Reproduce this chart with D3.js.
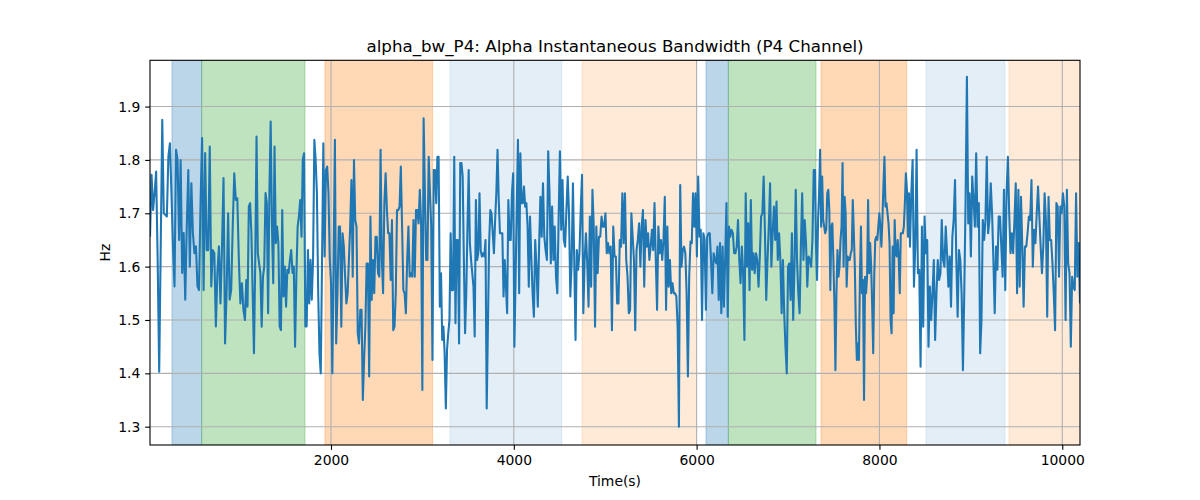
<!DOCTYPE html>
<html><head><meta charset="utf-8">
<script src="https://cdn.jsdelivr.net/npm/d3@7"></script>
<style>body{margin:0;background:#fff} svg{display:block} text{font-family:"DejaVu Sans",sans-serif;fill:#000}</style>
</head><body><svg id="c" width="1200" height="500"></svg>
<script>
// ---- data ----
const timeKnots = [20, 1059, 2099, 3138, 4177, 5216, 6256, 7295, 8334, 9319, 10194];
const seg1 = [1.656,1.772,1.706,1.738,1.778,1.613,1.403,1.638,1.875,1.70,1.697,1.694,1.806,1.831,1.738,1.638,1.563,1.819,1.80,1.65,1.80,1.588,1.663,1.538,1.675,1.781,1.60,1.756,1.663,1.625,1.638,1.563,1.556,1.719,1.841,1.556,1.813,1.631,1.631,1.825,1.563,1.631,1.625,1.488,1.588,1.638,1.531,1.638,1.766,1.456,1.55,1.70,1.538,1.556,1.675,1.775,1.725,1.728,1.613,1.531,1.569,1.519];
const seg2 = [1.50,1.575,1.525,1.7125,1.719,1.663,1.55,1.4375,1.6125,1.844,1.625,1.606,1.588,1.4875,1.581,1.60,1.738,1.719,1.5125,1.738,1.872,1.675,1.569,1.825,1.644,1.675,1.644,1.488,1.481,1.706,1.544,1.60,1.525,1.594,1.588,1.613,1.631,1.588,1.60,1.45,1.581,1.675,1.694,1.725,1.656,1.80,1.8125,1.488,1.488,1.631,1.531,1.613,1.538,1.613,1.8375,1.80,1.738,1.55,1.4375,1.40,1.613,1.831,1.619,1.781,1.7875,1.738,1.613,1.569,1.40,1.613,1.8375,1.456,1.55,1.675];
const seg3 = [1.675,1.4875,1.6625,1.6375,1.581,1.531,1.55,1.6125,1.675,1.7625,1.581,1.80,1.6875,1.675,1.475,1.456,1.519,1.519,1.35,1.425,1.4875,1.606,1.606,1.394,1.694,1.5375,1.6125,1.55,1.656,1.656,1.5875,1.581,1.819,1.6125,1.55,1.719,1.775,1.706,1.6625,1.6625,1.575,1.6875,1.481,1.4875,1.55,1.706,1.706,1.7125,1.7875,1.675,1.556,1.55,1.5125,1.6125,1.675,1.581,1.5875,1.581,1.6875,1.581,1.706,1.706,1.681,1.744,1.681,1.369,1.878,1.738,1.6125,1.6125,1.806,1.738,1.675,1.425,1.781];
const seg4 = [1.781,1.719,1.806,1.806,1.525,1.5875,1.4625,1.4875,1.4375,1.334,1.444,1.475,1.50,1.6625,1.556,1.556,1.806,1.494,1.65,1.65,1.456,1.794,1.794,1.769,1.6125,1.475,1.55,1.675,1.781,1.644,1.6125,1.5875,1.5625,1.469,1.725,1.6125,1.625,1.7375,1.631,1.619,1.625,1.619,1.65,1.334,1.4875,1.644,1.706,1.70,1.6625,1.625,1.6875,1.7375,1.819,1.725,1.6625,1.6625,1.6625,1.544,1.6125,1.5625,1.5125,1.725,1.65,1.65,1.7375,1.775,1.45,1.575,1.7125,1.8375,1.55,1.8125,1.719,1.719,1.75,1.7125,1.719,1.675,1.5625];
const seg5 = [1.694,1.619,1.55,1.506,1.65,1.60,1.525,1.6375,1.731,1.656,1.756,1.656,1.631,1.6125,1.816,1.7375,1.606,1.7125,1.6125,1.675,1.581,1.55,1.6875,1.816,1.669,1.7625,1.65,1.6375,1.706,1.769,1.70,1.544,1.606,1.756,1.6125,1.4625,1.631,1.594,1.625,1.706,1.772,1.5125,1.6125,1.6625,1.606,1.525,1.694,1.5625,1.744,1.675,1.4875,1.675,1.5875,1.656,1.656,1.694,1.675,1.675,1.70,1.625,1.644,1.625,1.6375,1.481,1.675,1.619,1.619,1.531,1.531,1.65,1.6375,1.7375,1.644];
const seg6 = [1.7375,1.6125,1.581,1.5125,1.519,1.70,1.656,1.6125,1.481,1.631,1.65,1.681,1.60,1.675,1.706,1.5625,1.6875,1.6375,1.6625,1.6125,1.6375,1.669,1.631,1.719,1.6125,1.519,1.675,1.625,1.65,1.6125,1.65,1.731,1.519,1.675,1.5625,1.6125,1.55,1.569,1.55,1.55,1.544,1.4875,1.30,1.753,1.60,1.631,1.6375,1.625,1.55,1.394,1.581,1.647,1.644,1.7375,1.675,1.7375,1.619,1.769,1.656,1.669,1.50,1.6625,1.65,1.519,1.656,1.6625,1.6625,1.6125,1.55,1.625,1.6125,1.606,1.6375,1.5375];
const seg7 = [1.644,1.5125,1.6375,1.525,1.6125,1.719,1.506,1.675,1.656,1.669,1.6625,1.625,1.625,1.6375,1.6875,1.6125,1.569,1.6375,1.5875,1.4625,1.7375,1.60,1.681,1.556,1.725,1.594,1.625,1.5875,1.625,1.6125,1.5625,1.619,1.694,1.70,1.769,1.6625,1.5375,1.6125,1.675,1.756,1.60,1.6625,1.7125,1.65,1.722,1.6125,1.6625,1.6125,1.5125,1.6125,1.5125,1.45,1.40,1.60,1.606,1.5375,1.6625,1.50,1.60,1.744,1.6125,1.55,1.5125,1.6375,1.7375,1.6125,1.6875,1.644,1.5625,1.619,1.6125,1.60,1.65,1.781];
const seg8 = [1.781,1.6375,1.575,1.6875,1.7375,1.819,1.675,1.769,1.6875,1.675,1.6625,1.669,1.7375,1.744,1.706,1.556,1.675,1.681,1.6125,1.531,1.406,1.55,1.631,1.581,1.60,1.65,1.675,1.794,1.60,1.731,1.70,1.5625,1.619,1.6125,1.6125,1.625,1.631,1.725,1.6625,1.60,1.4875,1.425,1.456,1.425,1.581,1.675,1.55,1.575,1.35,1.581,1.55,1.581,1.725,1.5875,1.644,1.60,1.525,1.4375,1.581,1.65,1.656,1.65,1.675,1.70,1.675,1.6375,1.6875,1.75,1.806,1.7125,1.719,1.70,1.681,1.644,1.50,1.475,1.6375,1.5125,1.6875,1.625,1.619,1.65,1.6125,1.55,1.6625,1.6625,1.6625,1.675,1.719,1.775,1.744,1.656,1.7375];
const seg9 = [1.6375,1.7375,1.80,1.5625,1.6375,1.819,1.5875,1.594,1.4125,1.675,1.4875,1.694,1.625,1.65,1.45,1.5625,1.50,1.55,1.6125,1.4625,1.55,1.6125,1.575,1.5875,1.6875,1.6125,1.60,1.675,1.625,1.5625,1.619,1.525,1.656,1.6875,1.7625,1.6125,1.506,1.631,1.6125,1.55,1.406,1.55,1.725,1.956,1.681,1.7375,1.619,1.769,1.725,1.675,1.8125,1.675,1.719,1.4375,1.50,1.6875,1.65,1.6875,1.806,1.6625,1.6875,1.756,1.70,1.6125,1.5125,1.6375,1.594,1.694];
const seg10 = [1.694,1.6375,1.581,1.744,1.556,1.7375,1.806,1.70,1.625,1.6625,1.625,1.6875,1.756,1.55,1.744,1.5625,1.731,1.6375,1.525,1.6375,1.6375,1.6625,1.694,1.6875,1.7625,1.60,1.669,1.644,1.70,1.75,1.694,1.6375,1.5875,1.6375,1.7375,1.6875,1.506,1.731,1.65,1.65,1.606,1.55,1.481,1.719,1.7125,1.581,1.7125,1.70,1.7375,1.7125,1.50,1.744,1.606,1.5875,1.45,1.581,1.5625,1.556,1.7375,1.581,1.644,1.531];
const segments = [seg1, seg2, seg3, seg4, seg5, seg6, seg7, seg8, seg9, seg10];

const bandStart = [260, 585, 1934, 3302, 4746, 6102, 6347, 7361, 8509, 9417];
const bandEnd   = [585, 1716, 3112, 4524, 6000, 6347, 7306, 8298, 9373, 10400];
const bandKind  = ["blue", "green", "orange", "lightblue", "lightorange", "blue", "green", "orange", "lightblue", "lightorange"];

const xTicks = [2000, 4000, 6000, 8000, 10000];
const yTicks = [1.3, 1.4, 1.5, 1.6, 1.7, 1.8, 1.9];
const xDomain = [20, 10194];
const yDomain = [1.2657, 1.9867];

const titleText = "alpha_bw_P4: Alpha Instantaneous Bandwidth (P4 Channel)";
const xLabel = "Time(s)";
const yLabel = "Hz";

// ---- styles ----
const bandStyle = {
  blue: {c: "#1f77b4", o: 0.3},
  green: {c: "#2ca02c", o: 0.3},
  orange: {c: "#ff7f0e", o: 0.3},
  lightblue: {c: "#1f77b4", o: 0.12},
  lightorange: {c: "#ff7f0e", o: 0.16}
};

const L = 150, R = 1080, T = 60.3, B = 445;
const svg = d3.select("#c");
const x = d3.scaleLinear().domain(xDomain).range([L, R]);
const y = d3.scaleLinear().domain(yDomain).range([B, T]);

const data = [];
segments.forEach((s, k) => {
  const last = k === segments.length - 1;
  const t0 = timeKnots[k], t1 = timeKnots[k + 1];
  const n = last ? s.length - 1 : s.length;
  s.forEach((v, i) => data.push({t: t0 + i * (t1 - t0) / n, v}));
});

svg.append("defs").append("clipPath").attr("id", "clip")
  .append("rect").attr("x", L).attr("y", T).attr("width", R - L).attr("height", B - T);

const plot = svg.append("g").attr("clip-path", "url(#clip)");
plot.selectAll("rect.band").data(bandStart.map((s, i) => ({s, e: bandEnd[i], k: bandKind[i]})))
  .enter().append("rect").attr("class", "band")
  .attr("x", d => x(d.s)).attr("width", d => x(d.e) - x(d.s))
  .attr("y", T).attr("height", B - T)
  .attr("fill", d => bandStyle[d.k].c).attr("fill-opacity", d => bandStyle[d.k].o)
  .attr("stroke", d => bandStyle[d.k].c).attr("stroke-opacity", d => bandStyle[d.k].o).attr("stroke-width", 1);

// grid
plot.selectAll("line.gx").data(xTicks).enter().append("line")
  .attr("x1", d => x(d)).attr("x2", d => x(d)).attr("y1", T).attr("y2", B)
  .attr("stroke", "#b0b0b0").attr("stroke-width", 1.1);
plot.selectAll("line.gy").data(yTicks).enter().append("line")
  .attr("y1", d => y(d)).attr("y2", d => y(d)).attr("x1", L).attr("x2", R)
  .attr("stroke", "#b0b0b0").attr("stroke-width", 1.1);

plot.append("path").datum(data)
  .attr("fill", "none").attr("stroke", "#1f77b4").attr("stroke-width", 2.08)
  .attr("stroke-linejoin", "round").attr("stroke-linecap", "butt")
  .attr("d", d3.line().x(d => x(d.t)).y(d => y(d.v)));

// axes
const xAxis = svg.append("g").attr("transform", `translate(0,${B})`)
  .call(d3.axisBottom(x).tickValues(xTicks).tickFormat(d3.format("d")).tickSize(4.86).tickPadding(4.86));
const yAxis = svg.append("g").attr("transform", `translate(${L},0)`)
  .call(d3.axisLeft(y).tickValues(yTicks).tickFormat(d3.format(".1f")).tickSize(4.86).tickPadding(4.86));
[xAxis, yAxis].forEach(a => {
  a.select(".domain").remove();
  a.selectAll(".tick line").attr("stroke", "#000").attr("stroke-width", 1.1);
  a.selectAll(".tick text").attr("font-size", "13.9px").attr("font-family", "DejaVu Sans").attr("fill", "#000");
});

svg.append("rect").attr("x", L).attr("y", T).attr("width", R - L).attr("height", B - T)
  .attr("fill", "none").attr("stroke", "#000").attr("stroke-width", 1.1);

svg.append("text").attr("x", (L + R) / 2).attr("y", 52).attr("text-anchor", "middle")
  .attr("font-size", "16.7px").text(titleText);
svg.append("text").attr("x", (L + R) / 2).attr("y", 486).attr("text-anchor", "middle")
  .attr("font-size", "13.9px").text(xLabel);
svg.append("text").attr("transform", `translate(110,${(T + B) / 2}) rotate(-90)`).attr("text-anchor", "middle")
  .attr("font-size", "13.9px").text(yLabel);
</script></body></html>
